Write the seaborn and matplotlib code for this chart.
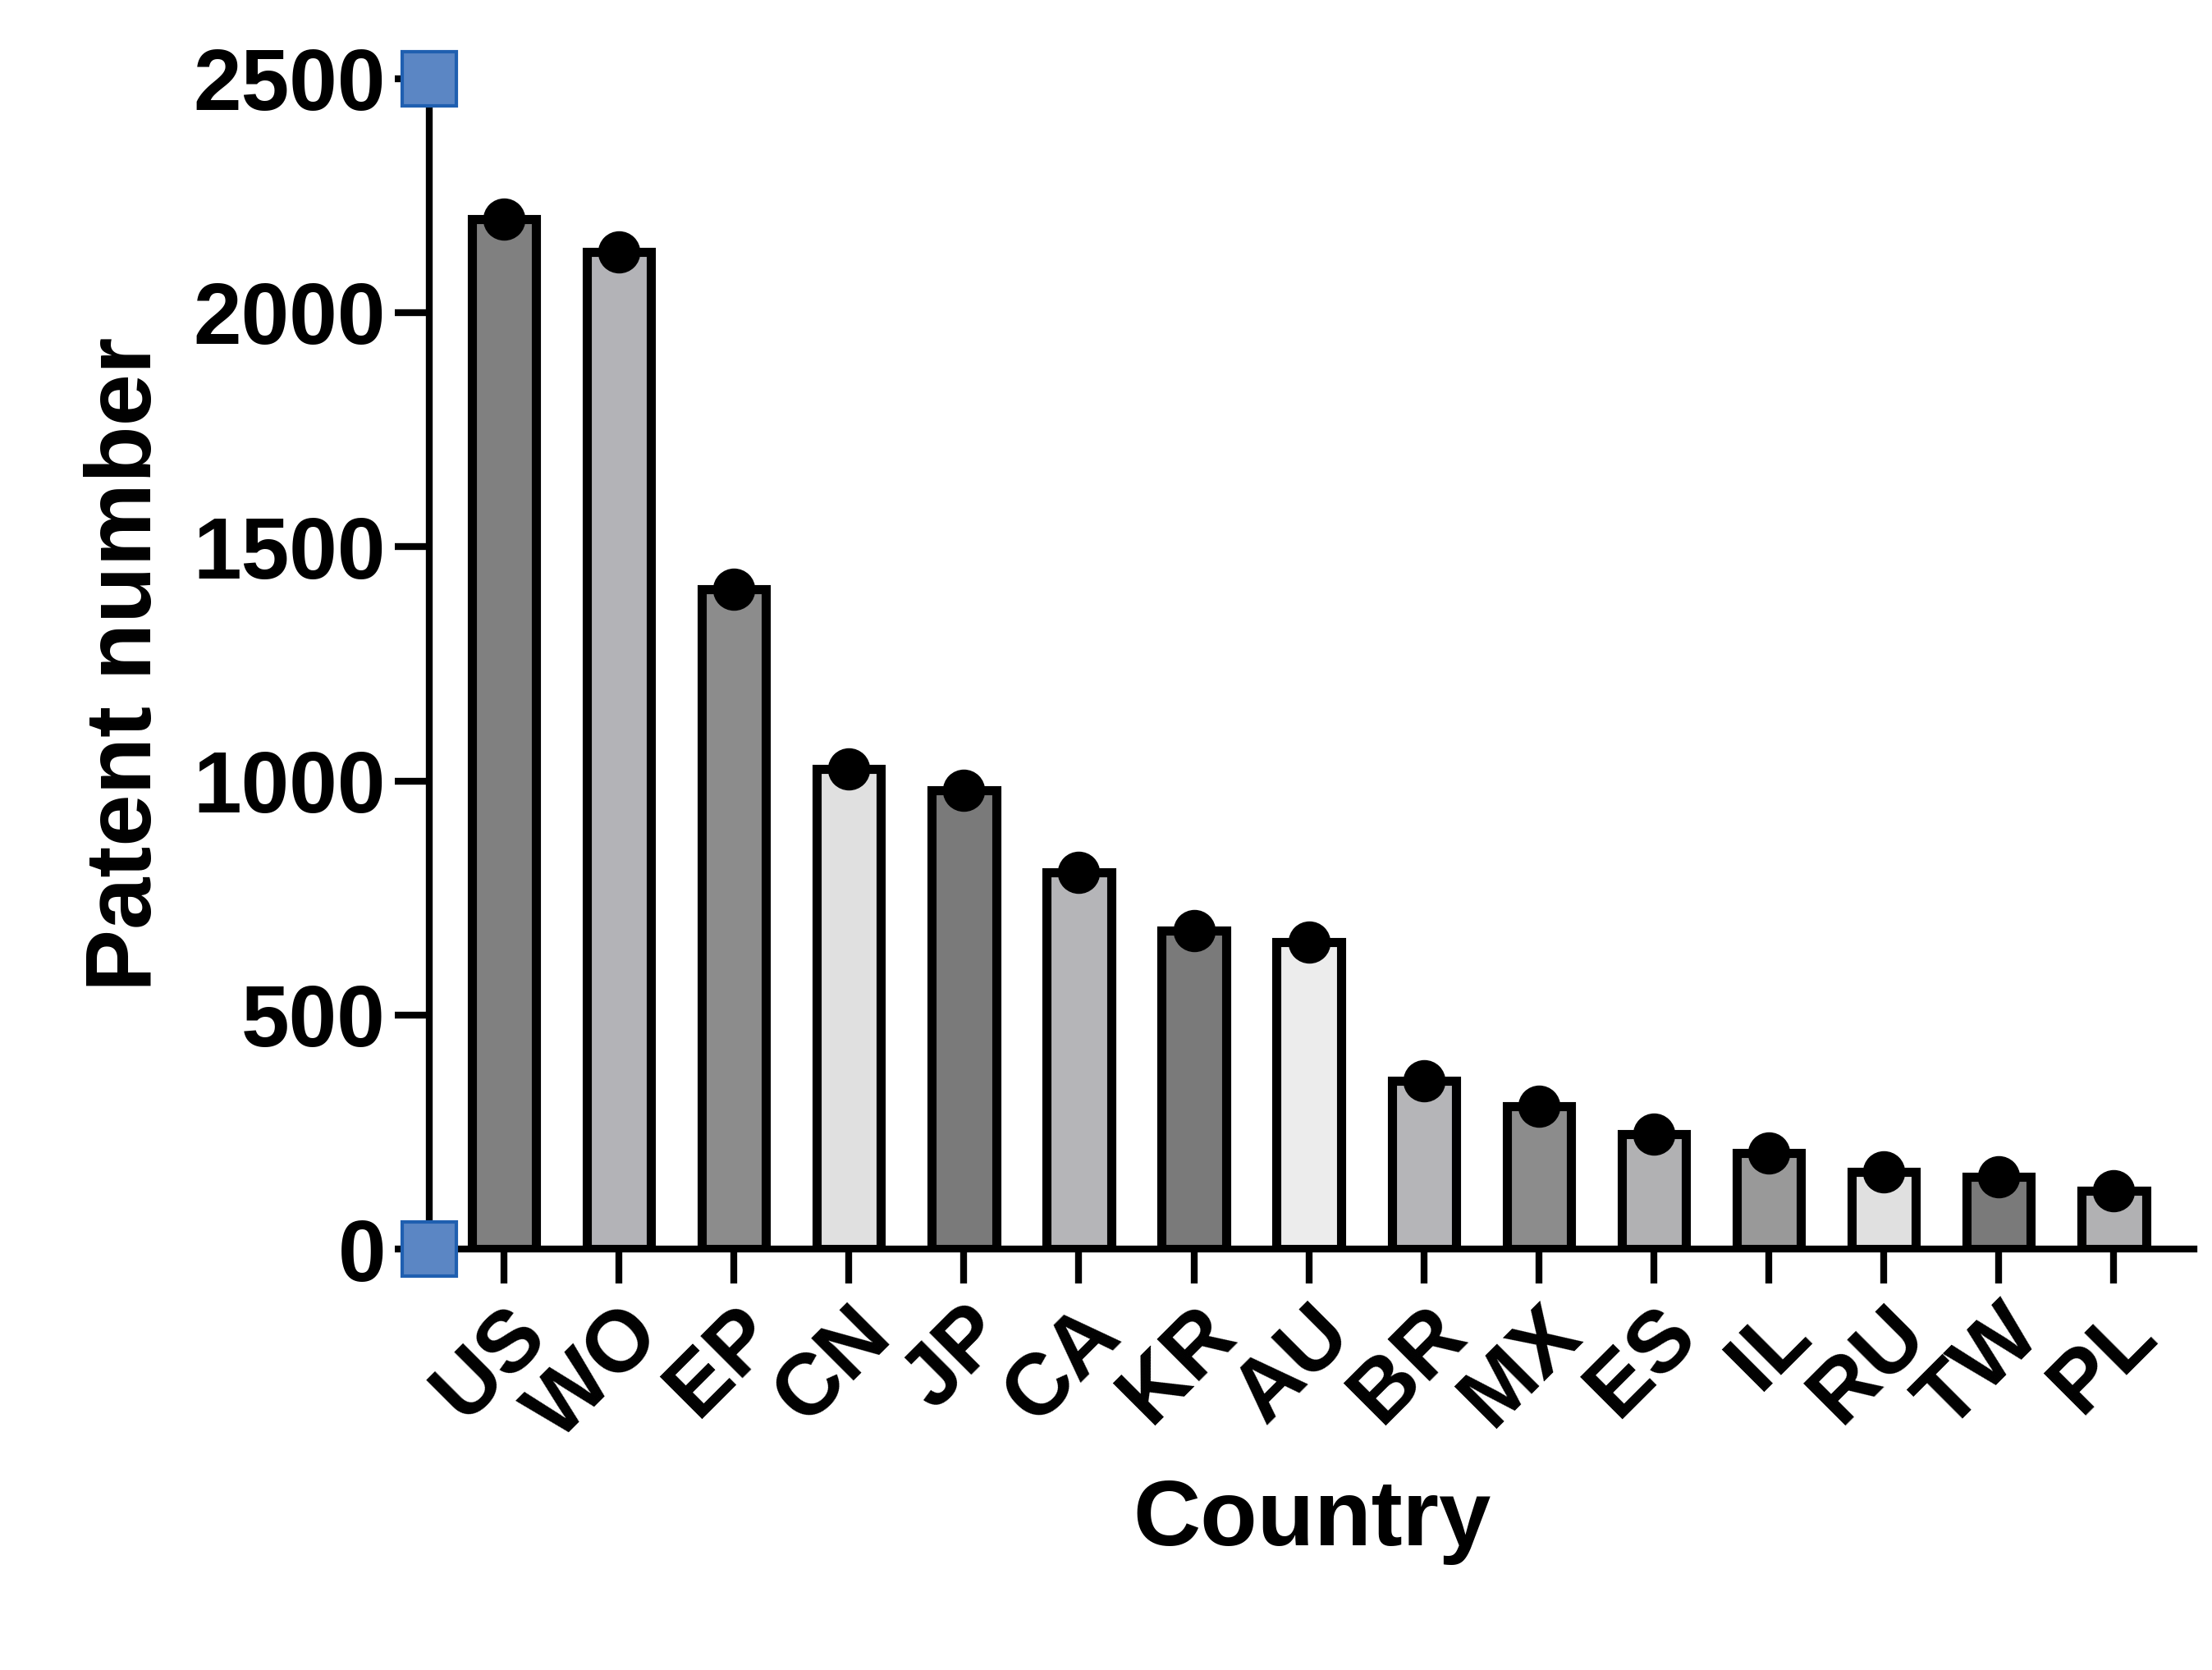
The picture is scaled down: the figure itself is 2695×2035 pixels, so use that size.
import matplotlib.pyplot as plt
import seaborn as sns
import pandas as pd

countries = ['US', 'WO', 'EP', 'CN', 'JP', 'CA', 'KR', 'AU', 'BR', 'MX', 'ES', 'IL', 'RU', 'TW', 'PL']
patents = [2200, 2130, 1410, 1025, 980, 805, 680, 655, 360, 305, 245, 205, 165, 155, 125]
bar_colors = ['#808080', '#b2b2b8', '#8c8c8c', '#e0e0e0', '#7a7a7a', '#b4b4b8', '#7a7a7a', '#ececec',
              '#b4b4b8', '#8c8c8c', '#b0b0b4', '#999999', '#e0e0e0', '#7a7a7a', '#b0b0b4']

df = pd.DataFrame({'Country': countries, 'Patents': patents})

sns.set_style('ticks')
plt.rcParams['font.family'] = ['Liberation Sans', 'DejaVu Sans']
plt.rcParams['font.weight'] = 'bold'
plt.rcParams['text.color'] = 'black'
plt.rcParams['axes.labelcolor'] = 'black'
plt.rcParams['xtick.color'] = 'black'
plt.rcParams['ytick.color'] = 'black'
plt.rcParams['axes.edgecolor'] = 'black'

fig = plt.figure(figsize=(26.95, 20.35), dpi=100)
ax = fig.add_axes([0.194, 0.252, 0.798, 0.701])

sns.barplot(data=df, x='Country', y='Patents', hue='Country', palette=bar_colors,
            width=0.56, edgecolor='black', linewidth=8, legend=False, ax=ax, zorder=2)
ax.scatter(range(len(countries)), patents, s=1300, color='black', zorder=3, clip_on=False)

ax.set_xlim(-0.65, 14.7)
ax.set_ylim(0, 2500)
ax.set_yticks([0, 500, 1000, 1500, 2000, 2500])
ax.plot([-0.65, -0.65], [0, 2500], ls='none', marker='s', ms=48, mfc='#5b86c4',
        mec='#1f5fb0', mew=3, clip_on=False, zorder=4)

for s in ['top', 'right']:
    ax.spines[s].set_visible(False)
for s in ['left', 'bottom']:
    ax.spines[s].set_linewidth(6)

ax.tick_params(axis='both', width=6, length=30, labelsize=76, pad=8)
plt.setp(ax.get_xticklabels(), rotation=45, ha='right', rotation_mode='anchor', fontweight='bold')
plt.setp(ax.get_yticklabels(), fontweight='bold')
ax.set_xlabel('Country', fontsize=82, fontweight='bold', labelpad=20)
ax.set_ylabel('Patent number', fontsize=82, fontweight='bold', labelpad=20)

fig.savefig('out.png', dpi=100)
